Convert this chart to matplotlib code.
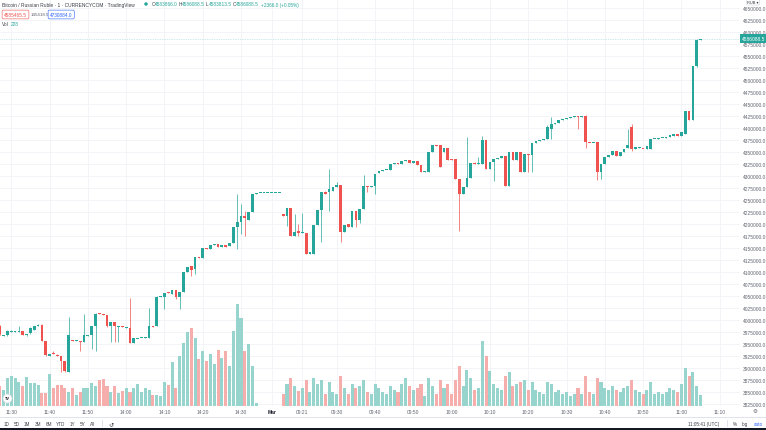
import numpy as np
import matplotlib
matplotlib.use('Agg')
import matplotlib.pyplot as plt
from matplotlib.patches import Ellipse, Rectangle
from matplotlib.ticker import MultipleLocator, FormatStrFormatter
from matplotlib.transforms import blended_transform_factory

plt.rcParams['font.family'] = ['Liberation Sans', 'DejaVu Sans']

W, H = 766, 431

UP = '#26a69a'
DOWN = '#ef5350'
UP_VOL = '#98d4ce'
DOWN_VOL = '#f6aeac'
GRID = '#f0f2f6'
TEXT = '#3b3e48'
AXIS_TEXT = '#60636e'

# one-minute candles, RUB
opens = [
    3987500, 3967700, 3968750, 3975000, 3976000, 3976000, 3977100, 3968750, 3972900, 3979200,
    3987500, 3989600, 3956250, 3925000, 3931250, 3928100, 3925000, 3914600, 3891700, 3958300,
    3956250, 3956250, 3954200, 3966700, 3968750, 3987500, 4014600, 4012500, 4010400, 3987500,
    3995800, 3986500, 3987500, 3984400, 3983300, 3952100, 3961500, 3962500, 3962500, 3962500,
    3987500, 3987500, 4047900, 4047900, 4057300, 4054200, 4062500, 4047900, 4058300, 4100000,
    4111500, 4106250, 4131250, 4129200, 4150000, 4147900, 4156250, 4158300, 4152100, 4156250,
    4154200, 4160400, 4193750, 4204200, 4216700, 4208300, 4225000, 4262500, 4266000, 4266000,
    4266000, 4266000, 4266000, 4266000, 4220800, 4216700, 4233300, 4175000, 4185400, 4181250,
    4181250, 4137500, 4137500, 4197900, 4229200, 4266700, 4266700, 4268750, 4277100, 4281250,
    4183300, 4200000, 4193750, 4227100, 4208300, 4231250, 4279200, 4277100, 4279200, 4306250,
    4310400, 4312500, 4312500, 4325000, 4328100, 4325000, 4331250, 4333300, 4327100, 4331250,
    4322900, 4308300, 4308300, 4350000, 4364600, 4364600, 4350000, 4358300, 4335400, 4335400,
    4293750, 4262500, 4277100, 4295800, 4327100, 4325000, 4325000, 4375000, 4314600, 4329200,
    4335400, 4337500, 4341700, 4279200, 4350000, 4333300, 4350000, 4308300, 4345800, 4343750,
    4368750, 4372900, 4375000, 4377100, 4397900, 4408300, 4410400, 4416700, 4418750, 4420800,
    4422900, 4425000, 4422900, 4425000, 4370800, 4369800, 4370800, 4308300, 4325000, 4339600,
    4343750, 4352100, 4341700, 4350000, 4358300, 4402100, 4356250, 4358300, 4358300, 4356250,
    4356250, 4377100, 4377100, 4379200, 4380200, 4381250, 4383300, 4387500, 4383300, 4387500,
    4435400, 4416700, 4529200, 4583866.0,
]
highs = [
    3989600, 3968750, 3979200, 3979200, 3977100, 3987500, 3977100, 3970800, 3985400, 3987500,
    3991700, 3991700, 3956250, 3929200, 3935400, 3929200, 3925000, 3914600, 4006250, 3958300,
    3958300, 3956250, 4012500, 3968750, 3987500, 4014600, 4014600, 4012500, 4010400, 3995800,
    3995800, 3987500, 3987500, 3985400, 4045800, 3962500, 3962500, 3963500, 3964600, 4025000,
    3987500, 4050000, 4049000, 4056250, 4057300, 4062500, 4062500, 4058300, 4100000, 4110400,
    4112500, 4131250, 4131250, 4150000, 4150000, 4156250, 4157300, 4158300, 4156250, 4156250,
    4160400, 4193750, 4262500, 4241700, 4227100, 4225000, 4262500, 4265600, 4266000, 4266000,
    4266000, 4266000, 4266000, 4266000, 4220800, 4233300, 4233300, 4220800, 4200000, 4222900,
    4181250, 4141700, 4197900, 4229200, 4266700, 4268750, 4314600, 4277100, 4287500, 4281250,
    4197900, 4200000, 4227100, 4227100, 4231250, 4302100, 4279200, 4279200, 4304200, 4310400,
    4312500, 4313500, 4325000, 4327100, 4328100, 4331250, 4332300, 4333300, 4331250, 4331250,
    4322900, 4309400, 4350000, 4364600, 4364600, 4364600, 4358300, 4358300, 4335400, 4335400,
    4293750, 4277100, 4381250, 4327100, 4329200, 4339600, 4383300, 4375000, 4329200, 4335400,
    4337500, 4341700, 4341700, 4350000, 4350000, 4350000, 4350000, 4345800, 4345800, 4368750,
    4372900, 4375000, 4377100, 4406250, 4422900, 4410400, 4416700, 4418750, 4420800, 4422900,
    4425000, 4425000, 4426000, 4427100, 4370800, 4370800, 4370800, 4325000, 4339600, 4343750,
    4352100, 4352100, 4350000, 4356250, 4397900, 4408300, 4360400, 4360400, 4358300, 4362500,
    4377100, 4378100, 4379200, 4380200, 4381250, 4385400, 4387500, 4387500, 4391700, 4435400,
    4435400, 4529200, 4585400, 4586088.5,
]
lows = [
    3968750, 3966700, 3966700, 3974000, 3975000, 3975000, 3968750, 3967700, 3970800, 3979200,
    3987500, 3956250, 3925000, 3925000, 3929200, 3925000, 3891700, 3891700, 3891700, 3956250,
    3956250, 3935400, 3954200, 3966700, 3939600, 3935400, 4012500, 4010400, 3985400, 3954200,
    3954200, 3954200, 3985400, 3983300, 3952100, 3952100, 3961500, 3962500, 3962500, 3962500,
    3985400, 3987500, 4047900, 4022900, 4056250, 4054200, 4043750, 4022900, 4058300, 4100000,
    4091700, 4095800, 4130200, 4129200, 4147900, 4147900, 4156250, 4152100, 4152100, 4152100,
    4154200, 4160400, 4147900, 4179200, 4175000, 4208300, 4225000, 4262500, 4266000, 4266000,
    4266000, 4266000, 4266000, 4266000, 4216700, 4195800, 4175000, 4175000, 4175000, 4181250,
    4137500, 4137500, 4137500, 4197900, 4162500, 4262500, 4227100, 4268750, 4277100, 4162500,
    4183300, 4193750, 4193750, 4193750, 4202100, 4231250, 4266700, 4277100, 4262500, 4306250,
    4310400, 4312500, 4312500, 4325000, 4325000, 4325000, 4331250, 4327100, 4327100, 4322900,
    4308300, 4308300, 4308300, 4350000, 4363500, 4318750, 4350000, 4333300, 4333300, 4293750,
    4185400, 4262500, 4277100, 4295800, 4325000, 4325000, 4325000, 4314600, 4314600, 4289600,
    4335400, 4337500, 4279200, 4279200, 4333300, 4333300, 4308300, 4308300, 4308300, 4308300,
    4368750, 4372900, 4375000, 4377100, 4377100, 4408300, 4410400, 4416700, 4418750, 4420800,
    4422900, 4397900, 4422900, 4358300, 4369800, 4369800, 4291700, 4293750, 4325000, 4339600,
    4343750, 4341700, 4341700, 4350000, 4358300, 4352100, 4356250, 4358300, 4357300, 4356250,
    4356250, 4377100, 4377100, 4379200, 4380200, 4381250, 4383300, 4383300, 4383300, 4387500,
    4416700, 4416700, 4527100, 4583813.5,
]
closes = [
    3970800, 3968750, 3977100, 3977100, 3977100, 3977100, 3968750, 3970800, 3983300, 3987500,
    3989600, 3956250, 3927100, 3929200, 3929200, 3926000, 3914600, 3893750, 3968750, 3956250,
    3957300, 3954200, 3968750, 3968750, 3987500, 4012500, 4012500, 4010400, 3987500, 3995800,
    3987500, 3987500, 3985400, 3985400, 3952100, 3962500, 3962500, 3963500, 3964600, 3987500,
    3985400, 4047900, 4049000, 4056250, 4056250, 4062500, 4047900, 4058300, 4100000, 4110400,
    4105200, 4131250, 4130200, 4150000, 4147900, 4156250, 4157300, 4152100, 4156250, 4152100,
    4160400, 4193750, 4204200, 4216700, 4212500, 4225000, 4262500, 4265600, 4266000, 4266000,
    4266000, 4266000, 4266000, 4266000, 4217700, 4233300, 4175000, 4183300, 4181250, 4183300,
    4137500, 4141700, 4197900, 4229200, 4266700, 4262500, 4272900, 4277100, 4281250, 4183300,
    4197900, 4193750, 4227100, 4208300, 4231250, 4279200, 4277100, 4279200, 4304200, 4310400,
    4312500, 4313500, 4325000, 4327100, 4325000, 4331250, 4332300, 4327100, 4331250, 4322900,
    4308300, 4309400, 4350000, 4364600, 4363500, 4318750, 4358300, 4333300, 4334400, 4293750,
    4262500, 4277100, 4295800, 4327100, 4326000, 4327100, 4375000, 4314600, 4329200, 4335400,
    4337500, 4341700, 4279200, 4350000, 4333300, 4350000, 4308300, 4345800, 4343750, 4368750,
    4372900, 4375000, 4377100, 4402100, 4408300, 4410400, 4416700, 4418750, 4420800, 4422900,
    4425000, 4422900, 4426000, 4370800, 4369800, 4370800, 4308300, 4325000, 4339600, 4343750,
    4352100, 4341700, 4350000, 4356250, 4364600, 4356250, 4360400, 4360400, 4357300, 4362500,
    4377100, 4378100, 4379200, 4380200, 4381250, 4385400, 4387500, 4383300, 4391700, 4435400,
    4416700, 4529200, 4583300, 4586088.5,
]
volumes = [
    400, 320, 560, 600, 560, 480, 400, 580, 460, 460,
    420, 260, 260, 640, 360, 420, 420, 360, 280, 360,
    220, 280, 360, 360, 460, 400, 520, 540, 400, 280,
    400, 260, 300, 360, 280, 360, 440, 280, 360, 320,
    220, 220, 200, 480, 420, 880, 360, 1000, 1260, 1480,
    1560, 1360, 940, 1100, 900, 1040, 840, 1120, 960, 1100,
    800, 1500, 2040, 1760, 1100, 1240, 800, 60, 0, 0,
    0, 0, 0, 0, 240, 440, 560, 400, 300, 360,
    520, 280, 560, 440, 520, 240, 480, 280, 240, 600,
    360, 240, 440, 360, 400, 520, 280, 240, 440, 360,
    280, 240, 400, 320, 280, 440, 560, 400, 320, 360,
    440, 200, 560, 400, 240, 520, 360, 440, 240, 520,
    800, 400, 720, 560, 320, 360, 1300, 1000, 700, 440,
    360, 320, 600, 680, 400, 440, 480, 520, 320, 480,
    320, 280, 240, 480, 440, 280, 320, 240, 280, 200,
    240, 360, 240, 600, 280, 240, 560, 480, 360, 320,
    400, 320, 280, 360, 400, 520, 320, 280, 240, 320,
    480, 240, 280, 240, 280, 360, 320, 280, 440, 760,
    600, 680, 400, 228,
]

tick_bars = [3, 13, 23, 33, 43, 53, 63, 71, 79, 88, 98, 108, 118, 128, 138, 148, 158, 168, 178, 188]
tick_labels = ['11:30', '11:40', '11:50', '14:00', '14:10', '14:20', '14:30', 'Mar', '09:21',
               '09:30', '09:40', '09:50', '10:00', '10:10', '10:20', '10:30', '10:40', '10:50',
               '11:00', '11:10']

last_price = 4586088.5
sell_price = '4585465.5'
spread = '145418.5'
buy_price = '4730884.0'
ohlc_header = [('O', '4583866.0'), ('H', '4586088.5'), ('L', '4583813.5'), ('C', '4586088.5')]
change = '+2366.0 (+0.05%)'
ranges = ['1D', '5D', '1M', '3M', '6M', 'YTD', '1Y', '5Y', 'All']


def fx(x):
    return x / W


def fy(y):
    return 1 - y / H


o = np.array(opens, dtype=float)
h = np.array(highs, dtype=float)
l = np.array(lows, dtype=float)
c = np.array(closes, dtype=float)
v = np.array(volumes, dtype=float)
x = np.arange(len(o))

up = c >= o
colors = np.where(up, UP, DOWN)
vol_colors = np.where(up, UP_VOL, DOWN_VOL)

fig = plt.figure(figsize=(W / 100, H / 100), dpi=100, facecolor='white')
rect = [0, fy(407), fx(740), (407) / H]

ax_vol = fig.add_axes(rect)
ax = fig.add_axes(rect, sharex=ax_vol)
ax.patch.set_alpha(0)

ax.set_xlim(0.06, 193.3)
ax.set_ylim(3820833, 4668750)
ax_vol.set_ylim(0, 8140)

ax.yaxis.tick_right()
ax.yaxis.set_major_locator(MultipleLocator(25000))
ax.yaxis.set_major_formatter(FormatStrFormatter('%.1f'))
ax.tick_params(axis='y', length=0, pad=2.2, labelsize=3.5, labelcolor=AXIS_TEXT)

ax.set_xticks(tick_bars)
ax.set_xticklabels(tick_labels)
ax.tick_params(axis='x', length=0, pad=2.0, labelsize=3.5, labelcolor=AXIS_TEXT)
for lbl in ax.get_xticklabels():
    if lbl.get_text() == 'Mar':
        lbl.set_fontweight('bold')
        lbl.set_color('#131722')

for side in ('top', 'left', 'right', 'bottom'):
    ax.spines[side].set_visible(False)
ax_vol.axis('off')

# grid behind volume
lo, hi = ax.get_ylim()
levels = [t for t in ax.get_yticks() if lo <= t <= hi]
ax_vol.hlines(levels, 0, 1, transform=blended_transform_factory(ax_vol.transAxes, ax.transData),
              colors=GRID, linewidth=0.6, zorder=0)
ax_vol.vlines(tick_bars, 0, 1, transform=ax_vol.get_xaxis_transform(),
              colors=GRID, linewidth=0.6, zorder=0)

ax_vol.bar(x, v, width=0.8, color=vol_colors, linewidth=0, zorder=1)

# candles
body = np.abs(c - o)
body_h = np.maximum(body, 1300)
bottom = np.minimum(o, c) - (body_h - body) / 2
ax.vlines(x, l, h, colors=colors, linewidth=0.5, zorder=2)
ax.bar(x, body_h, width=0.72, bottom=bottom, color=colors, linewidth=0, zorder=3)

# last price line and label
ax.axhline(last_price, color=UP, linewidth=0.5, linestyle=(0, (1, 1.5)), alpha=0.45, zorder=1)
ax.text(1 + 2 / 740, last_price, '%.1f' % last_price, transform=ax.get_yaxis_transform(),
        ha='left', va='center', fontsize=3.5, color='white', zorder=5,
        bbox=dict(boxstyle='square,pad=0.35', fc=UP, ec='none'))

# currency box top right
fig.text(fx(753), fy(3.2), 'RUB ▾', ha='center', va='center', fontsize=2.9, color=TEXT,
         bbox=dict(boxstyle='round,pad=0.2,rounding_size=0.3', fc='white', ec='#d1d4dc', lw=0.4))

# header
fig.text(fx(2), fy(5), 'Bitcoin / Russian Ruble · 1 · CURRENCYCOM · TradingView',
         ha='left', va='center', fontsize=3.5, color=TEXT)
fig.add_artist(Ellipse((fx(146), fy(5)), 3.5 / W, 3.5 / H, transform=fig.transFigure,
                       fc=UP, ec='none'))
for (letter, value), xpos in zip(ohlc_header, [152, 179, 206, 233]):
    fig.text(fx(xpos), fy(5), letter, ha='left', va='center', fontsize=3.4, color=TEXT)
    fig.text(fx(xpos + 3), fy(5), value, ha='left', va='center', fontsize=3.4, color=UP)
fig.text(fx(261), fy(5), change, ha='left', va='center', fontsize=3.4, color=UP)

fig.text(fx(4), fy(15.5), sell_price, ha='left', va='center', fontsize=3.4, color=DOWN,
         bbox=dict(boxstyle='round,pad=0.4,rounding_size=0.3', fc='white', ec=DOWN, lw=0.4))
fig.text(fx(31), fy(15.5), spread, ha='left', va='center', fontsize=3.2, color=AXIS_TEXT)
fig.text(fx(50), fy(15.5), buy_price, ha='left', va='center', fontsize=3.4, color='#2962ff',
         bbox=dict(boxstyle='round,pad=0.4,rounding_size=0.3', fc='white', ec='#2962ff', lw=0.4))
fig.text(fx(2), fy(24.5), 'Vol', ha='left', va='center', fontsize=3.4, color=TEXT)
fig.text(fx(11), fy(24.5), '%d' % volumes[-1], ha='left', va='center', fontsize=3.4, color=UP)

# logo
fig.add_artist(Ellipse((fx(7.5), fy(399.5)), 9 / W, 9 / H, transform=fig.transFigure,
                       fc='white', ec='#d6d8de', lw=0.4, zorder=6))
fig.text(fx(7.5), fy(399.5), 'TV', ha='center', va='center', fontsize=2.8,
         fontweight='bold', color='#131722', zorder=7)

# bottom toolbar
fig.add_artist(Rectangle((0, fy(418.5)), 1, 0.5 / H, transform=fig.transFigure,
                         fc='#e0e3eb', ec='none'))
for label, xpos in zip(ranges, [7, 17, 27, 38, 49, 61, 72.5, 83, 93]):
    fig.text(fx(xpos), fy(424.5), label, ha='center', va='center', fontsize=3.3, color=TEXT)
fig.add_artist(Rectangle((fx(102), fy(428)), 0.6 / W, 7 / H, transform=fig.transFigure,
                         fc='#e0e3eb', ec='none'))
fig.text(fx(111), fy(424.5), '↺', ha='center', va='center', fontsize=4.5, color=TEXT)
fig.text(fx(704), fy(424.5), '11:05:41 (UTC)', ha='center', va='center', fontsize=3.3, color=TEXT)
fig.add_artist(Rectangle((fx(727), fy(428)), 0.6 / W, 7 / H, transform=fig.transFigure,
                         fc='#e0e3eb', ec='none'))
fig.text(fx(735), fy(424.5), '%', ha='center', va='center', fontsize=3.3, color=TEXT)
fig.text(fx(745), fy(424.5), 'log', ha='center', va='center', fontsize=3.3, color=TEXT)
fig.text(fx(758), fy(424.5), 'auto', ha='center', va='center', fontsize=3.3, color='#2962ff')
fig.text(fx(755), fy(412), '⚙', ha='center', va='center', fontsize=4, color=AXIS_TEXT)
fig.add_artist(Rectangle((0, 0), 1, 1.6 / H, transform=fig.transFigure,
                         fc='#131722', ec='none'))

fig.savefig('out.png', dpi=100, facecolor='white')
